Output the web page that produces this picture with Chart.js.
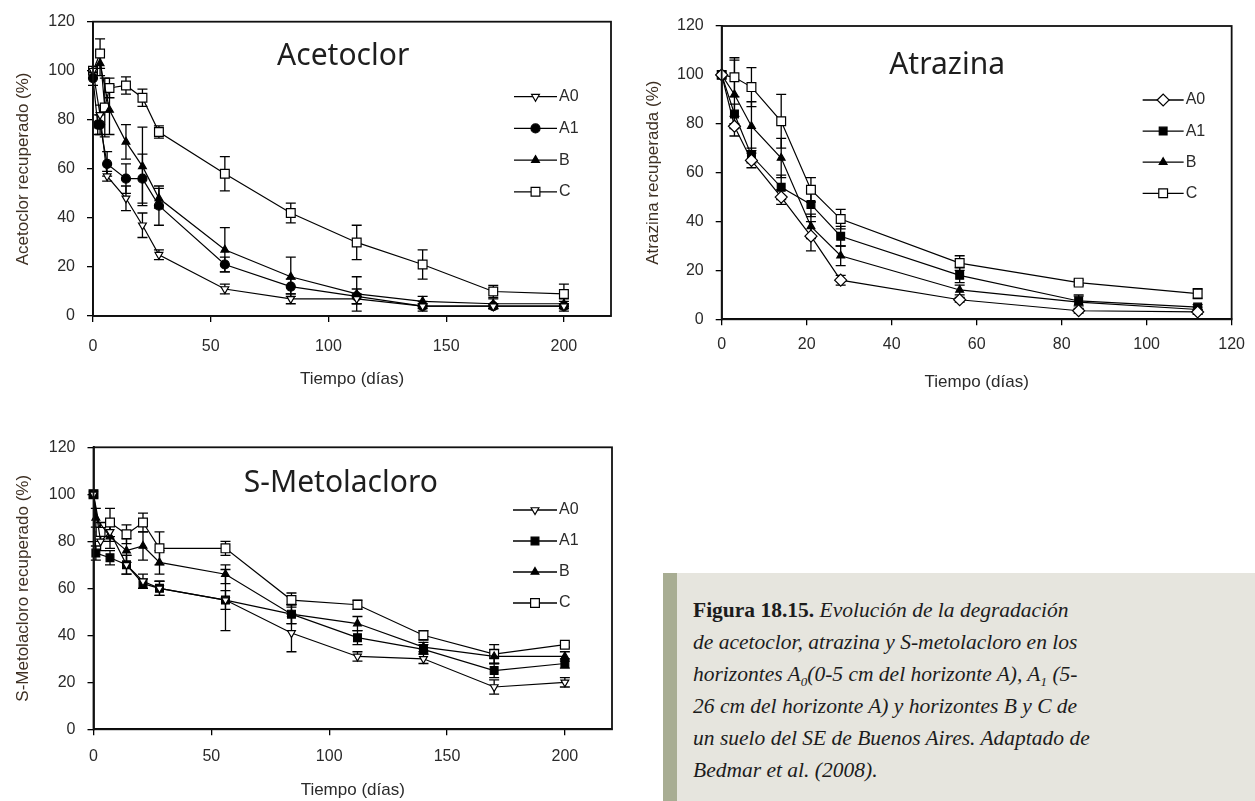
<!DOCTYPE html>
<html>
<head>
<meta charset="utf-8">
<script src="https://cdn.jsdelivr.net/npm/chart.js@4.4.1/dist/chart.umd.min.js"></script>
<style>
  html,body{margin:0;padding:0;background:#fff;width:1255px;height:801px;overflow:hidden;}
  canvas{position:absolute;}
  #caption{position:absolute;left:663px;top:573px;width:592px;height:228px;background:#e6e5de;
    border-left:14px solid #a8ad93;font-family:"Liberation Serif","DejaVu Serif",serif;font-size:21.5px;
    line-height:32px;color:#1c1c1c;padding:21px 0 0 16px;box-sizing:border-box;white-space:nowrap;}
  #caption i{font-style:italic;}
  #caption sub{font-size:13px;line-height:0;vertical-align:-5px;}
</style>
</head>
<body>
<canvas id="c1" width="640" height="400" style="left:0;top:0;"></canvas>
<canvas id="c2" width="625" height="400" style="left:630px;top:0;"></canvas>
<canvas id="c3" width="640" height="381" style="left:0;top:420px;"></canvas>
<div id="caption"><b>Figura 18.15.</b> <i>Evolución de la degradación<br>de acetoclor, atrazina y S-metolacloro en los<br>horizontes A<sub>0</sub>(0-5 cm del horizonte A), A<sub>1</sub> (5-<br>26 cm del horizonte A) y horizontes B y C de<br>un suelo del SE de Buenos Aires. Adaptado de<br>Bedmar et al. (2008).</i></div>
<script>
// ---------- DATA ----------
const seriesLabels = ['A0', 'A1', 'B', 'C'];
const xTitle = 'Tiempo (días)';
const yTicks = [0, 20, 40, 60, 80, 100, 120];

// Acetoclor
const acetoTitle = 'Acetoclor';
const acetoYTitle = 'Acetoclor recuperado (%)';
const acetoXTicks = [0, 50, 100, 150, 200];
const acetoT_A0 = [0, 3, 6, 14, 21, 28, 56, 84, 112, 140, 170, 200];
const acetoY_A0 = [100, 82, 57, 48, 37, 25, 11, 7, 7, 4, 4, 4];
const acetoE_A0 = [0, 4, 2, 5, 5, 2, 2, 2, 2, 1, 1, 1];
const acetoT_A1 = [0, 2, 3, 6, 14, 21, 28, 56, 84, 112, 140, 170, 200];
const acetoY_A1 = [97, 78, 78, 62, 56, 56, 45, 21, 12, 8, 4, 4, 4];
const acetoE_A1 = [3, 4, 4, 5, 6, 10, 8, 3, 3, 3, 2, 1, 2];
const acetoT_B = [0, 3, 7, 14, 21, 28, 56, 84, 112, 140, 170, 200];
const acetoY_B = [100, 103, 84, 71, 61, 48, 27, 16, 9, 6, 5, 5];
const acetoE_B = [0, 5, 10, 7, 16, 4, 9, 8, 7, 2, 2, 2];
const acetoT_C = [0, 3, 5, 7, 14, 21, 28, 56, 84, 112, 140, 170, 200];
const acetoY_C = [100, 107, 85, 93, 94, 89, 75, 58, 42, 30, 21, 10, 9];
const acetoE_C = [0, 6, 12, 4, 3.5, 3.5, 2.5, 7, 4, 7, 6, 2.5, 4];

// Atrazina
const atraTitle = 'Atrazina';
const atraYTitle = 'Atrazina recuperada (%)';
const atraXTicks = [0, 20, 40, 60, 80, 100, 120];
const atraT = [0, 3, 7, 14, 21, 28, 56, 84, 112];
const atraY_A0 = [100, 79, 65, 50, 34, 16, 8, 3.5, 3];
const atraE_A0 = [0, 4, 3, 3, 6, 2, 1, 1, 1];
const atraY_A1 = [100, 84, 67, 54, 47, 34, 18, 7.5, 5];
const atraE_A1 = [0, 4, 3, 5, 5, 4, 3, 2, 1];
const atraY_B = [100, 92, 79, 66, 38, 26, 12, 7, 4];
const atraE_B = [0, 14, 10, 8, 5, 4, 2, 3, 1];
const atraY_C = [100, 99, 95, 81, 53, 41, 23, 15, 10.5];
const atraE_C = [0, 8, 8, 11, 5, 4, 3, 1, 2];

// S-Metolacloro
const metoTitle = 'S-Metolacloro';
const metoYTitle = 'S-Metolacloro recuperado (%)';
const metoXTicks = [0, 50, 100, 150, 200];
const metoT_A0 = [0, 3, 7, 14, 21, 28, 56, 84, 112, 140, 170, 200];
const metoY_A0 = [100, 80, 84, 70, 63, 60, 55, 41, 31, 30, 18, 20];
const metoE_A0 = [0, 4, 4, 4, 3, 3, 4, 8, 2, 2, 3, 2];
const metoT_A1 = [0, 1, 7, 14, 21, 28, 56, 84, 112, 140, 170, 200];
const metoY_A1 = [100, 75, 73, 70, 62, 60, 55, 49, 39, 34, 25, 28];
const metoE_A1 = [0, 3, 3, 4, 2, 3, 13, 4, 3, 2, 3, 2];
const metoT_B = [0, 1, 7, 14, 21, 28, 56, 84, 112, 140, 170, 200];
const metoY_B = [100, 90, 82, 76, 78, 71, 66, 49, 45, 35, 31, 31];
const metoE_B = [0, 4, 5, 5, 6, 5, 4, 4, 3, 2, 3, 2];
const metoT_C = [0, 3, 7, 14, 21, 28, 56, 84, 112, 140, 170, 200];
const metoY_C = [100, 84, 88, 83, 88, 77, 77, 55, 53, 40, 32, 36];
const metoE_C = [0, 4, 6, 4, 4, 7, 3, 3, 2, 2, 4, 1];

// ---------- HELPERS ----------
const TXT = '#2a2a2a';
const YTXT = '#3d2f22';
const SANS = '"Liberation Sans", Arial, sans-serif';

function pts(t, y) { return t.map((v, i) => ({x: v, y: y[i]})); }

function ds(label, t, y, e, style) {
  return Object.assign({
    label: label, data: pts(t, y), errors: e, showLine: true,
    borderColor: '#000', borderWidth: 1.2, pointBorderColor: '#000', pointBorderWidth: 1.2,
    pointHoverRadius: 0, clip: false
  }, style);
}

const errorBars = {
  id: 'errorBars',
  beforeDatasetsDraw(chart) {
    const {ctx, scales: {x, y}} = chart;
    ctx.save();
    ctx.strokeStyle = '#000'; ctx.lineWidth = 1.3;
    chart.data.datasets.forEach(d => {
      if (!d.errors) return;
      d.data.forEach((p, i) => {
        const e = d.errors[i];
        if (!e) return;
        const px = x.getPixelForValue(p.x);
        const y1 = y.getPixelForValue(p.y + e), y2 = y.getPixelForValue(p.y - e);
        const cw = 5;
        ctx.beginPath();
        ctx.moveTo(px, y1); ctx.lineTo(px, y2);
        ctx.moveTo(px - cw, y1); ctx.lineTo(px + cw, y1);
        ctx.moveTo(px - cw, y2); ctx.lineTo(px + cw, y2);
        ctx.stroke();
      });
    });
    ctx.restore();
  }
};

const frame = {
  id: 'frame',
  afterDraw(chart) {
    const {ctx, chartArea: a} = chart;
    ctx.save(); ctx.strokeStyle = '#111'; ctx.lineWidth = 1.8;
    ctx.strokeRect(a.left, a.top, a.right - a.left, a.bottom - a.top);
    ctx.restore();
  }
};

const innerTitle = {
  id: 'innerTitle',
  afterDraw(chart, args, o) {
    const {ctx, chartArea: a} = chart;
    ctx.save();
    ctx.font = '30px "Noto Sans", "Open Sans", sans-serif';
    ctx.fillStyle = '#1e1e1e'; ctx.textAlign = 'center'; ctx.textBaseline = 'middle';
    ctx.fillText(o.text, a.left + o.fx * (a.right - a.left), a.top + o.dy);
    ctx.restore();
  }
};

const insideLegend = {
  id: 'insideLegend',
  afterDraw(chart, args, o) {
    const {ctx, chartArea: a} = chart;
    ctx.save();
    chart.data.datasets.forEach((d, i) => {
      const y = a.top + o.top + i * o.gap;
      const x0 = a.right - o.right;
      ctx.strokeStyle = '#000'; ctx.lineWidth = 1.3;
      ctx.beginPath(); ctx.moveTo(x0, y); ctx.lineTo(x0 + o.len, y); ctx.stroke();
      ctx.fillStyle = d.pointBackgroundColor; ctx.strokeStyle = '#000'; ctx.lineWidth = d.pointBorderWidth;
      Chart.helpers.drawPoint(ctx, {pointStyle: d.pointStyle, radius: d.pointRadius,
        borderWidth: d.pointBorderWidth, rotation: d.pointRotation || 0}, x0 + o.len / 2, y);
      ctx.fillStyle = TXT; ctx.font = '16px ' + SANS; ctx.textBaseline = 'middle'; ctx.textAlign = 'left';
      ctx.fillText(d.label, x0 + o.len + 2, y);
    });
    ctx.restore();
  }
};

function makeChart(id, datasets, cfg) {
  return new Chart(document.getElementById(id), {
    type: 'scatter',
    data: {datasets: datasets},
    plugins: [errorBars, frame, innerTitle, insideLegend],
    options: {
      responsive: false, animation: false, events: [],
      devicePixelRatio: 1,
      layout: {padding: cfg.pad},
      plugins: {
        legend: {display: false}, tooltip: {enabled: false},
        innerTitle: cfg.title, insideLegend: cfg.legend
      },
      scales: {
        x: {
          type: 'linear', position: 'bottom', min: 0, max: cfg.xmax,
          afterBuildTicks: s => { s.ticks = cfg.xticks.map(v => ({value: v})); },
          ticks: {padding: cfg.xpad, color: TXT, font: {family: SANS, size: 16}, maxRotation: 0, autoSkip: false},
          grid: {display: true, drawOnChartArea: false, drawTicks: true, tickLength: 6, color: '#000', lineWidth: 1.3},
          border: {display: true, color: '#000', width: 1.8},
          title: {display: true, text: xTitle, color: TXT, font: {family: SANS, size: 17},
                  padding: {top: 0, bottom: cfg.xtpad}},
          afterFit: s => { s.height = cfg.xh; }
        },
        y: {
          type: 'linear', min: 0, max: 120,
          afterBuildTicks: s => { s.ticks = yTicks.map(v => ({value: v})); },
          ticks: {padding: 12, color: TXT, font: {family: SANS, size: 16}},
          grid: {display: true, drawOnChartArea: false, drawTicks: true, tickLength: 6, color: '#000', lineWidth: 1.3},
          border: {display: true, color: '#000', width: 1.8},
          title: {display: true, text: cfg.ytitle, color: YTXT, font: {family: SANS, size: 17},
                  padding: {top: 13, bottom: 0}},
          afterFit: s => { s.width = cfg.yw; }
        }
      }
    }
  });
}

const stA0small = {pointStyle: 'triangle', pointRotation: 180, pointRadius: 4.5, pointBackgroundColor: '#fff'};
const stA0diam = {pointStyle: 'rectRot', pointRadius: 6, pointBackgroundColor: '#fff'};
const stCircle = {pointStyle: 'circle', pointRadius: 4.5, pointBackgroundColor: '#000'};
const stSquareF = {pointStyle: 'rect', pointRadius: 5.5, pointBackgroundColor: '#000'};
const stTri = {pointStyle: 'triangle', pointRadius: 4.5, pointBackgroundColor: '#000'};
const stSquareO = {pointStyle: 'rect', pointRadius: 6.2, pointBackgroundColor: '#fff'};

makeChart('c1', [
  ds(seriesLabels[0], acetoT_A0, acetoY_A0, acetoE_A0, stA0small),
  ds(seriesLabels[1], acetoT_A1, acetoY_A1, acetoE_A1, stCircle),
  ds(seriesLabels[2], acetoT_B, acetoY_B, acetoE_B, stTri),
  ds(seriesLabels[3], acetoT_C, acetoY_C, acetoE_C, stSquareO)
], {
  pad: {left: 0, top: 21.7, right: 29, bottom: 0}, xmax: 220, xticks: acetoXTicks,
  xpad: 15, xtpad: 10, xh: 84, yw: 93, ytitle: acetoYTitle,
  title: {text: acetoTitle, fx: 0.483, dy: 35},
  legend: {top: 75, gap: 31.7, right: 97, len: 43}
});

makeChart('c2', [
  ds(seriesLabels[0], atraT, atraY_A0, atraE_A0, stA0diam),
  ds(seriesLabels[1], atraT, atraY_A1, atraE_A1, stSquareF),
  ds(seriesLabels[2], atraT, atraY_B, atraE_B, stTri),
  ds(seriesLabels[3], atraT, atraY_C, atraE_C, stSquareO)
], {
  pad: {left: 0, top: 26, right: 19, bottom: 0}, xmax: 120, xticks: atraXTicks,
  xpad: 10, xtpad: 7, xh: 80.7, yw: 91.7, ytitle: atraYTitle,
  title: {text: atraTitle, fx: 0.442, dy: 39},
  legend: {top: 74, gap: 31.1, right: 89, len: 41}
});

makeChart('c3', [
  ds(seriesLabels[0], metoT_A0, metoY_A0, metoE_A0, stA0small),
  ds(seriesLabels[1], metoT_A1, metoY_A1, metoE_A1, stSquareF),
  ds(seriesLabels[2], metoT_B, metoY_B, metoE_B, stTri),
  ds(seriesLabels[3], metoT_C, metoY_C, metoE_C, stSquareO)
], {
  pad: {left: 0, top: 27.3, right: 28, bottom: 0}, xmax: 220, xticks: metoXTicks,
  xpad: 12, xtpad: 0, xh: 71.7, yw: 93.5, ytitle: metoYTitle,
  title: {text: metoTitle, fx: 0.477, dy: 36},
  legend: {top: 62.7, gap: 31, right: 99, len: 44}
});
</script>
</body>
</html>
